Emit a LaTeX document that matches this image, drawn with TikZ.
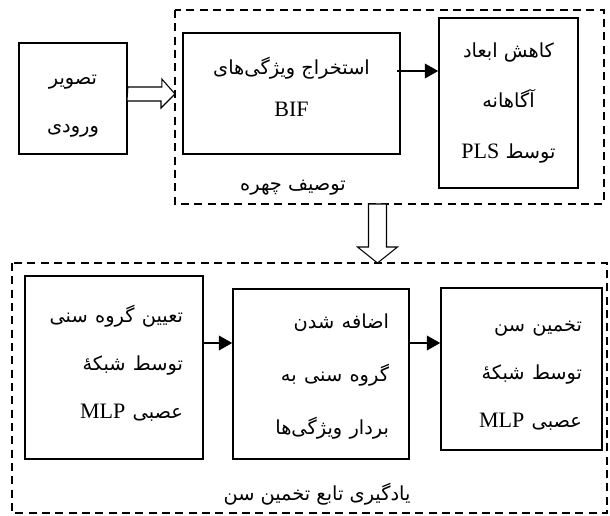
\documentclass[tikz,border=0pt]{standalone}
\usepackage{fontspec}
\setmainfont{Liberation Serif}
\newfontfamily\farsi[Script=Arabic,Scale=0.88]{DejaVu Sans}
\TeXXeTstate=1
\usetikzlibrary{arrows.meta}
\def\liftby{0pt}
\newcommand{\fa}[1]{\raisebox{\liftby}[\height][\depth]{\farsi\beginR #1\endR}}
\newcommand{\la}[1]{\raisebox{\liftby}[\height][\depth]{#1}}

\tikzset{
  lift/.code={\def\liftby{#1}},
  box/.style={draw, line width=1.2pt, align=center, inner sep=0pt},
  stage/.style={draw, line width=1.2pt, align=right, inner xsep=15pt, inner ysep=0pt},
  group/.style={line width=2.2pt, dash pattern=on 6pt off 4pt},
  flow/.style={line width=1.2pt, -{Triangle[length=10pt,width=11pt]}},
  hollow/.style={draw, line width=0.8pt, fill=white, line join=miter},
}

\begin{document}
\begin{tikzpicture}[x=0.75pt, y=-0.75pt, font=\fontsize{16.5pt}{36pt}\selectfont]
    \useasboundingbox (0,0) rectangle (610,516);

    % Draw the dashed groups
    \coordinate (descNW) at (175,10);
    \coordinate (descSE) at (604,204);
    \draw[group] (descNW) rectangle (descSE);
    \coordinate (learnNW) at (12,263);
    \coordinate (learnSE) at (607,513);
    \draw[group] (learnNW) rectangle (learnSE);

    % Draw the top row
    \node[box, lift=-6pt, minimum width=81pt, minimum height=83.25pt] (input) at (73,98.5)
        {\fa{تصویر}\\\fa{ورودی}};
    \node[box, lift=5pt, minimum width=162.75pt, minimum height=90.75pt] (bif) at (291.5,93.5)
        {\fa{استخراج ویژگی\hbox{}های}\\[-4pt]\la{BIF}};
    \node[box, minimum width=104.25pt, minimum height=127.5pt] (pls) at (508.5,103)
        {\fa{کاهش ابعاد}\\[2pt]\fa{آگاهانه}\\[2pt]\fa{توسط {\rmfamily PLS}}};

    % Draw the bottom row
    \node[stage, lift=3pt, text width=103.5pt, minimum height=137.25pt] (agegroup) at (114,367.5)
        {\fa{تعیین گروه سنی}\\\fa{توسط شبکهٔ}\\\fa{عصبی {\rmfamily MLP}}};
    \node[stage, lift=-2pt, text width=102pt, minimum height=127.5pt] (append) at (321,374)
        {\fa{اضافه شدن}\\[4pt]\fa{گروه سنی به}\\[4pt]\fa{بردار ویژگی\hbox{}ها}};
    \node[stage, lift=-5pt, text width=90.75pt, minimum height=121.5pt] (estimate) at (521.5,369)
        {\fa{تخمین سن}\\\fa{توسط شبکهٔ}\\\fa{عصبی {\rmfamily MLP}}};

    % Label the groups
    \node (facelbl) at (293,188) {\fa{توصیف چهره}};
    \node (learnlbl) at (317,494) {\fa{یادگیری تابع تخمین سن}};

    % Draw the arrows
    \coordinate (top) at (397,71);
    \draw[flow] (top) -- (top -| pls.west);
    \coordinate (row) at (0,343);
    \draw[flow] (agegroup.east |- row) -- (append.west |- row);
    \draw[flow] (append.east |- row) -- (estimate.west |- row);

    % Draw the hollow arrows
    \coordinate (h1) at (input.east |- 0,94);
    \draw[hollow] (h1) ++(0,-7) -- ++(34,0) -- ++(0,-8) -- (descNW |- h1)
        -- ++(-14,14) -- ++(0,-7) -- ++(-34,0) -- cycle;
    \coordinate (d1) at (377.5,0);
    \draw[hollow] (d1 |- descSE) ++(-9,0) -- ++(0,43) -- ++(-11,0) -- (d1 |- learnNW)
        -- ++(20,-16) -- ++(-11,0) -- ++(0,-43) -- cycle;

\end{tikzpicture}
\end{document}
